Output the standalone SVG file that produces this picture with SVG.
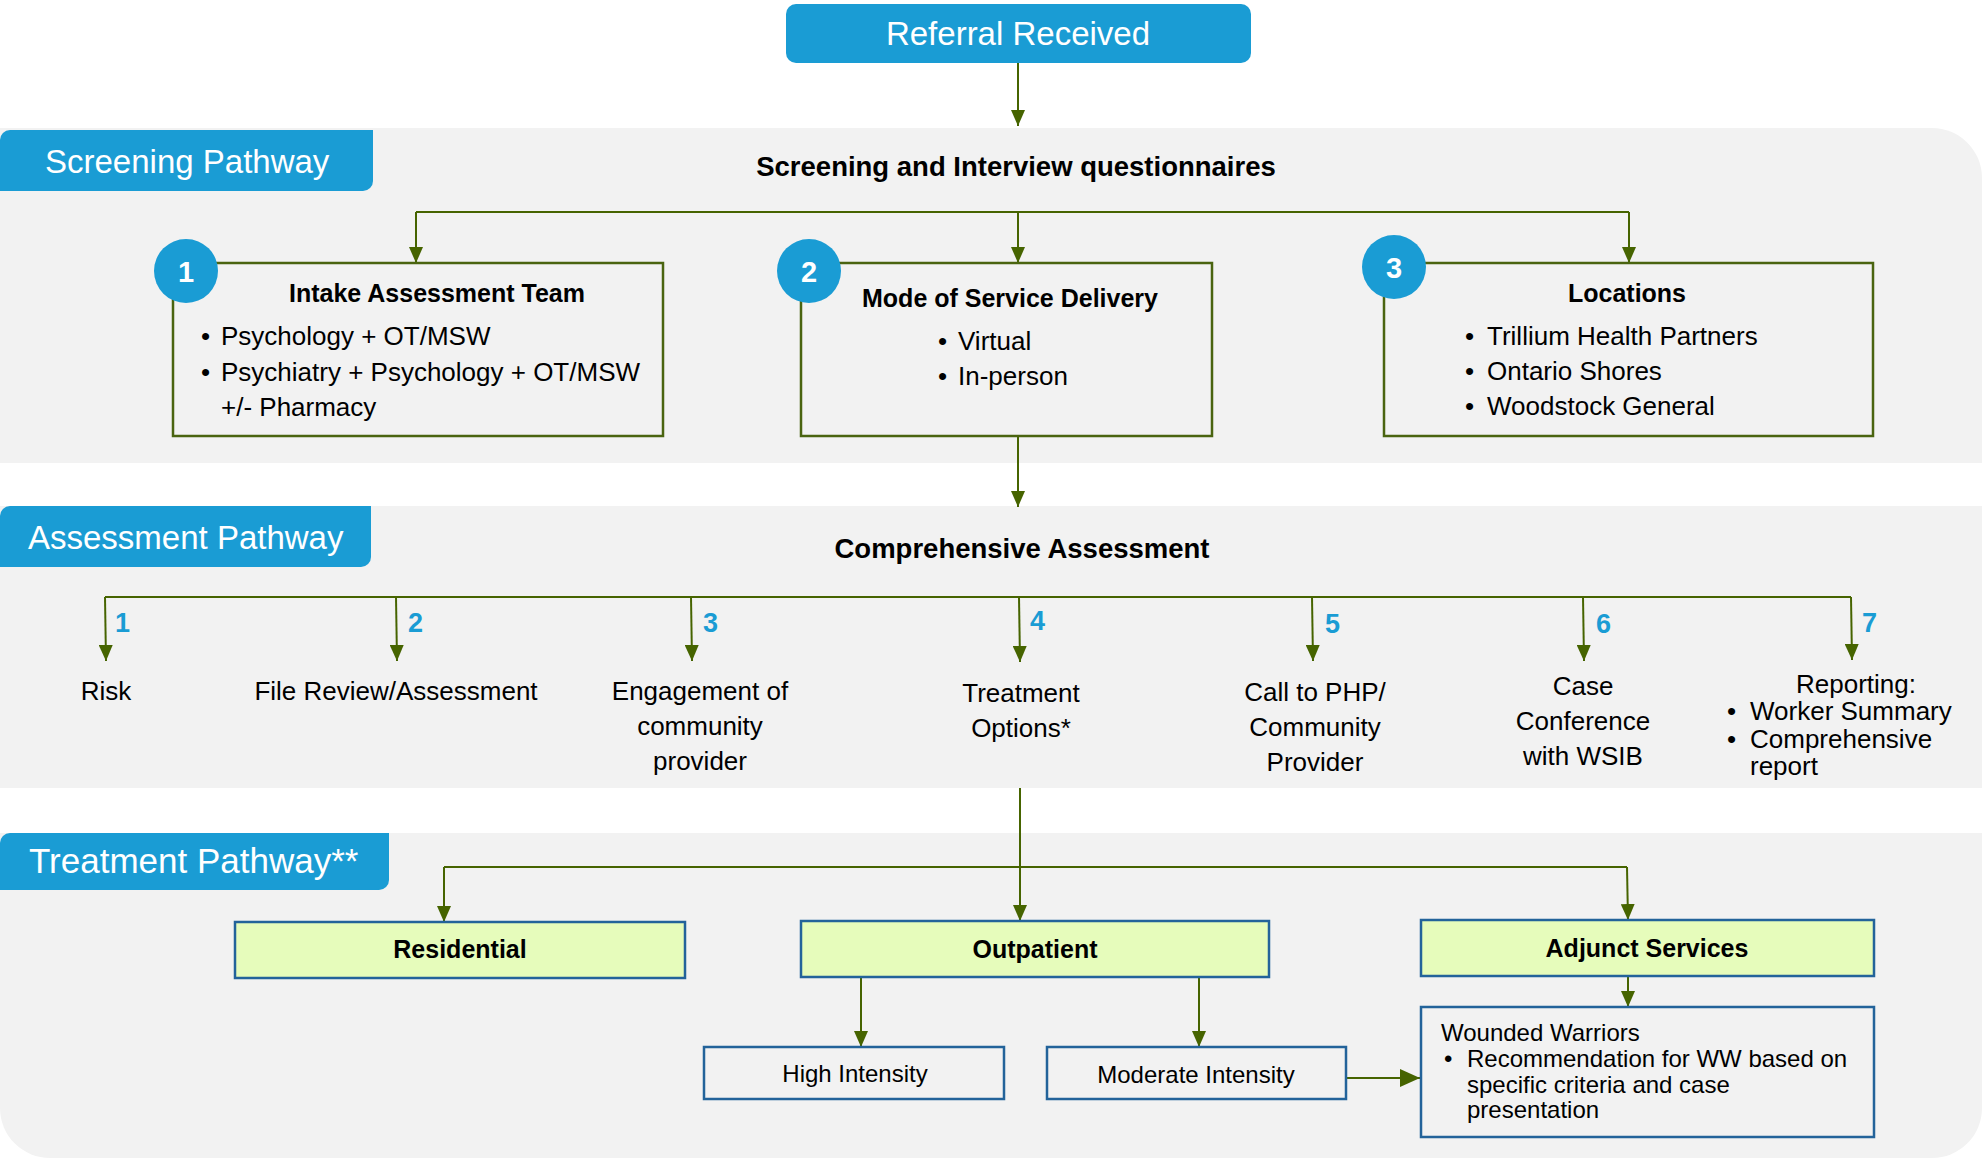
<svg xmlns="http://www.w3.org/2000/svg" width="1982" height="1159" viewBox="0 0 1982 1159">
<style>
text{font-family:"Liberation Sans",Arial,sans-serif;fill:#000}
.b{font-weight:bold}
.lbl{fill:#fff;font-size:33px}
.hdr{font-weight:bold;font-size:27.5px;text-anchor:middle}
.bh{font-weight:bold;font-size:25px;text-anchor:middle}
.bl{font-size:26px}
.al{font-size:26px;text-anchor:middle}
.num{font-weight:bold;font-size:27px;fill:#1a9cd4}
.badge{fill:#fff;font-weight:bold;font-size:29px;text-anchor:middle}
.tb{font-weight:bold;font-size:25px;text-anchor:middle}
.sm{font-size:24px}
.smc{font-size:24px;text-anchor:middle}
.panel{fill:#f2f2f2}
.blue{fill:#1a9cd4}
.gbox{fill:none;stroke:#4a6410;stroke-width:2.5}
.tbox{fill:#e6fcbb;stroke:#23639a;stroke-width:2.5}
.wbox{fill:#f2f2f2;stroke:#23639a;stroke-width:2.5}
.con{fill:none;stroke:#466400;stroke-width:2}
.arr{marker-end:url(#ah)}
</style>
<defs>
<marker id="ah" viewBox="0 0 10 10" refX="10" refY="5" markerWidth="16" markerHeight="14" markerUnits="userSpaceOnUse" orient="auto" preserveAspectRatio="none"><path d="M0,0 L10,5 L0,10 z" fill="#466400"/></marker>
<marker id="ahb" viewBox="0 0 10 10" refX="10" refY="5" markerWidth="20" markerHeight="18" markerUnits="userSpaceOnUse" orient="auto" preserveAspectRatio="none"><path d="M0,0 L10,5 L0,10 z" fill="#466400"/></marker>
</defs>
<rect width="1982" height="1159" fill="#fff"/>

<g id="panels">
<path class="panel" d="M0,128 H1932 A50,50 0 0 1 1982,178 V463 H0 Z"/>
<rect class="panel" x="0" y="506" width="1982" height="282"/>
<path class="panel" d="M0,833 H1982 V1108 A50,50 0 0 1 1932,1158 H50 A50,50 0 0 1 0,1108 Z"/>
</g>

<g id="label-screening">
<path class="blue" d="M10,130 H373 V181 A10,10 0 0 1 363,191 H0 V140 A10,10 0 0 1 10,130 Z"/>
<text class="lbl" x="45" y="173">Screening Pathway</text>
</g>
<g id="label-assessment">
<path class="blue" d="M10,506 H371 V557 A10,10 0 0 1 361,567 H0 V516 A10,10 0 0 1 10,506 Z"/>
<text class="lbl" x="28" y="549">Assessment Pathway</text>
</g>
<g id="label-treatment">
<path class="blue" d="M10,833 H389 V880 A10,10 0 0 1 379,890 H0 V843 A10,10 0 0 1 10,833 Z"/>
<text class="lbl" x="29" y="873" style="font-size:35px">Treatment Pathway**</text>
</g>

<g id="connectors">
<line class="con arr" x1="1018" y1="63" x2="1018" y2="126"/>
<polyline class="con" points="416,212 1629,212"/>
<line class="con arr" x1="416" y1="212" x2="416" y2="263"/>
<line class="con arr" x1="1018" y1="212" x2="1018" y2="263"/>
<line class="con arr" x1="1629" y1="212" x2="1629" y2="263"/>
<line class="con arr" x1="1018" y1="436" x2="1018" y2="507"/>
<polyline class="con" points="105,597 1851,597"/>
<line class="con arr" x1="105" y1="597" x2="106" y2="661"/>
<line class="con arr" x1="396" y1="597" x2="397" y2="661"/>
<line class="con arr" x1="691" y1="597" x2="692" y2="661"/>
<line class="con arr" x1="1019" y1="597" x2="1020" y2="662"/>
<line class="con arr" x1="1312" y1="597" x2="1313" y2="661"/>
<line class="con arr" x1="1583" y1="597" x2="1584" y2="661"/>
<line class="con arr" x1="1851" y1="597" x2="1852" y2="660"/>
<line class="con arr" x1="1020" y1="788" x2="1020" y2="921"/>
<polyline class="con" points="444,867 1627,867"/>
<line class="con arr" x1="444" y1="867" x2="444" y2="922"/>
<line class="con arr" x1="1627" y1="867" x2="1628" y2="920"/>
<line class="con arr" x1="861" y1="977" x2="861" y2="1047"/>
<line class="con arr" x1="1199" y1="977" x2="1199" y2="1047"/>
<line class="con arr" x1="1628" y1="976" x2="1628" y2="1007"/>
<line class="con" x1="1346" y1="1078" x2="1420" y2="1078" stroke-width="4" marker-end="url(#ahb)"/>
</g>

<g id="referral">
<rect class="blue" x="786" y="4" width="465" height="59" rx="10"/>
<text x="1018" y="45" fill="#fff" style="fill:#fff;font-size:33px" text-anchor="middle">Referral Received</text>
</g>

<text class="hdr" x="1016" y="176">Screening and Interview questionnaires</text>

<g id="intake">
<rect class="gbox" x="173" y="263" width="490" height="173"/>
<circle class="blue" cx="186" cy="271" r="32"/>
<text class="badge" x="186" y="282">1</text>
<text class="bh" x="437" y="302">Intake Assessment Team</text>
<text class="bl" x="201" y="345">•</text><text class="bl" x="221" y="345">Psychology + OT/MSW</text>
<text class="bl" x="201" y="381">•</text><text class="bl" x="221" y="381">Psychiatry + Psychology + OT/MSW</text>
<text class="bl" x="221" y="416">+/- Pharmacy</text>
</g>

<g id="mode">
<rect class="gbox" x="801" y="263" width="411" height="173"/>
<circle class="blue" cx="809" cy="271" r="32"/>
<text class="badge" x="809" y="282">2</text>
<text class="bh" x="1010" y="307">Mode of Service Delivery</text>
<text class="bl" x="938" y="350">•</text><text class="bl" x="958" y="350">Virtual</text>
<text class="bl" x="938" y="385">•</text><text class="bl" x="958" y="385">In-person</text>
</g>

<g id="locations">
<rect class="gbox" x="1384" y="263" width="489" height="173"/>
<circle class="blue" cx="1394" cy="267" r="32"/>
<text class="badge" x="1394" y="278">3</text>
<text class="bh" x="1627" y="302">Locations</text>
<text class="bl" x="1465" y="345">•</text><text class="bl" x="1487" y="345">Trillium Health Partners</text>
<text class="bl" x="1465" y="380">•</text><text class="bl" x="1487" y="380">Ontario Shores</text>
<text class="bl" x="1465" y="415">•</text><text class="bl" x="1487" y="415">Woodstock General</text>
</g>

<text class="hdr" x="1022" y="558">Comprehensive Assessment</text>

<g id="a1"><text class="num" x="115" y="632">1</text><text class="al" x="106" y="700">Risk</text></g>
<g id="a2"><text class="num" x="408" y="632">2</text><text class="al" x="396" y="700">File Review/Assessment</text></g>
<g id="a3"><text class="num" x="703" y="632">3</text>
<text class="al" x="700" y="700">Engagement of</text><text class="al" x="700" y="735">community</text><text class="al" x="700" y="770">provider</text></g>
<g id="a4"><text class="num" x="1030" y="630">4</text>
<text class="al" x="1021" y="702">Treatment</text><text class="al" x="1021" y="737">Options*</text></g>
<g id="a5"><text class="num" x="1325" y="633">5</text>
<text class="al" x="1315" y="701">Call to PHP/</text><text class="al" x="1315" y="736">Community</text><text class="al" x="1315" y="771">Provider</text></g>
<g id="a6"><text class="num" x="1596" y="633">6</text>
<text class="al" x="1583" y="695">Case</text><text class="al" x="1583" y="730">Conference</text><text class="al" x="1583" y="765">with WSIB</text></g>
<g id="a7"><text class="num" x="1862" y="632">7</text>
<text class="al" x="1856" y="693">Reporting:</text>
<text class="bl" x="1727" y="720">•</text><text class="bl" x="1750" y="720">Worker Summary</text>
<text class="bl" x="1727" y="748">•</text><text class="bl" x="1750" y="748">Comprehensive</text>
<text class="bl" x="1750" y="775">report</text></g>

<g id="residential">
<rect class="tbox" x="235" y="922" width="450" height="56"/>
<text class="tb" x="460" y="958">Residential</text>
</g>
<g id="outpatient">
<rect class="tbox" x="801" y="921" width="468" height="56"/>
<text class="tb" x="1035" y="958">Outpatient</text>
</g>
<g id="adjunct">
<rect class="tbox" x="1421" y="920" width="453" height="56"/>
<text class="tb" x="1647" y="957">Adjunct Services</text>
</g>
<g id="high">
<rect class="wbox" x="704" y="1047" width="300" height="52"/>
<text class="smc" x="855" y="1082">High Intensity</text>
</g>
<g id="moderate">
<rect class="wbox" x="1047" y="1047" width="299" height="52"/>
<text class="smc" x="1196" y="1083">Moderate Intensity</text>
</g>
<g id="wounded">
<rect class="wbox" x="1421" y="1007" width="453" height="130"/>
<text class="sm" x="1441" y="1041">Wounded Warriors</text>
<text class="sm" x="1444" y="1067">•</text><text class="sm" x="1467" y="1067">Recommendation for WW based on</text>
<text class="sm" x="1467" y="1093">specific criteria and case</text>
<text class="sm" x="1467" y="1118">presentation</text>
</g>
</svg>
